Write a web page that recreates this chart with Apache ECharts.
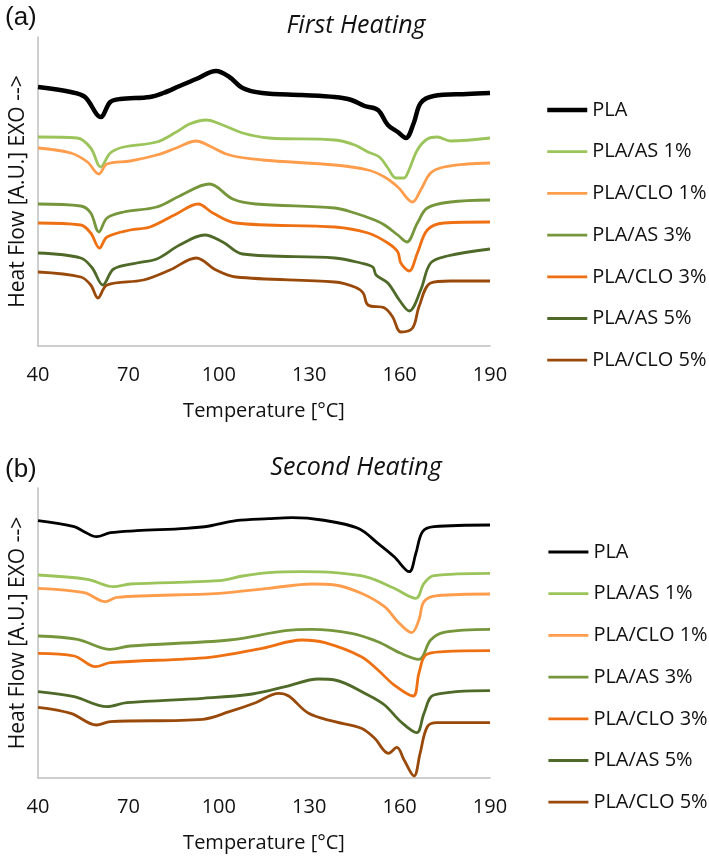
<!DOCTYPE html>
<html>
<head>
<meta charset="utf-8">
<script src="https://cdn.jsdelivr.net/npm/echarts@6/dist/echarts.min.js"></script>
<style>
html,body{margin:0;padding:0;background:#fff;}
#chart{width:709px;height:860px;}
</style>
</head>
<body>
<div id="chart"></div>
<script>
// ---------- names, colours, ticks ----------
var seriesNames = ['PLA','PLA/AS 1%','PLA/CLO 1%','PLA/AS 3%','PLA/CLO 3%','PLA/AS 5%','PLA/CLO 5%'];
var seriesColors = ['#000000','#9BC45A','#FF9D4D','#76963C','#EE7012','#4F6A28','#994A0A'];
var xTicks = [40, 70, 100, 130, 160, 190];

// ---------- (a) First heating : temperature [°C] / heat flow [A.U.] ----------
var fh_PLA_T  = [40,50.9,55.6,60.8,64,67.3,77.2,81.6,87,92.5,99.1,103.5,107.9,114.4,127.6,138.5,144,148.4,152.8,156.1,159.4,162.1,164.7,167,171.3,182.4,190];
var fh_PLA_Y  = [259,254,249,229,244,247,249,253,260,267,275,269,258,253,251,249,246,240,236,221,214,208,223,243,250,252,253];
var fh_AS1_T  = [40,53,57.5,60.8,64,68.4,79.4,85.9,90.3,95.8,101.3,107.9,116.6,138.5,145.1,149.5,153.3,156.1,158.8,161.4,163.1,165.9,169.2,172.5,176.9,190];
var fh_AS1_Y  = [209,208,198,179,193,199,204,214,222,226,221,213,208,206,201,194,189,178,168,168,176,196,207,209,205,208];
var fh_CLO1_T = [40,50.9,56.4,60.2,62.9,70.6,79.4,85.9,92.5,96.9,103.5,114.4,138.5,149.5,155,159.4,164.3,167,170.3,174.7,182.4,190];
var fh_CLO1_Y = [198,193,184,172,182,185,191,198,205,200,191,186,181,176,169,159,144,156,173,179,182,183];
var fh_AS3_T  = [40,54.2,57.5,60.2,62.9,68.4,79.4,87,96.9,104.6,112.2,138.5,145.1,151.7,155,159.4,162.4,165.9,169.2,176.9,190];
var fh_AS3_Y  = [142,140,133,114,128,134,139,150,162,147,142,138,133,126,121,111,104,123,138,144,146];
var fh_CLO3_T = [40,54.2,57.5,60.4,62.9,70.6,77.2,85.9,93.1,98,105.7,138.5,149.5,156.1,159.4,160.4,163.2,165.9,169.2,174.7,190];
var fh_CLO3_Y = [123,121,113,98,109,116,119,132,142,133,123,119,113,103,94,83,75,93,116,123,124];
var fh_AS5_T  = [40,54.2,58,61.5,65.1,72.8,79.4,87,95.3,101.3,107.9,138.5,147.1,151.1,152.2,156.1,159.9,163.2,167,170.3,175.8,190];
var fh_AS5_Y  = [93,88,78,61,77,83,87,101,111,104,92,88,83,79,71,63,46,35,56,83,90,97];
var fh_CLO5_T = [40,54.2,57.5,59.9,62.9,75,83.8,92.5,99.1,105.7,138.5,145.1,147.9,149.5,155,157.7,160.4,164.3,166.4,170.3,176.9,190];
var fh_CLO5_Y = [74,69,61,48,61,66,76,88,76,69,64,59,53,41,38,29,14,18,39,63,65,65];

// ---------- (b) Second heating ----------
var sh_PLA_T  = [40,52,55.3,59.4,64,72.8,89.2,96.9,105.7,116.6,124.3,134.2,146.2,152.8,158.2,163.2,165.4,167.6,171.4,190];
var sh_PLA_Y  = [257.3,251.3,246.3,241.3,245.3,247.3,249.7,252,257.3,259.3,260.3,258,249.7,234.7,221.3,206.3,224.7,246.3,251.3,253];
var sh_AS1_T  = [40,56.4,65.1,70.6,100.2,107.9,116.6,127.6,138.5,149.5,158.2,165.4,168.1,171.4,190];
var sh_AS1_Y  = [203,198.7,191.3,194,197.3,202,205.3,206.3,205.3,200.7,189.7,179.7,194.7,202.3,204.7];
var sh_CLO1_T = [40,55.3,62.4,66.2,100.2,116.6,130.9,138.5,147.3,155,159.4,164,166.4,168.1,172.5,190];
var sh_CLO1_Y = [189.7,185.3,176.3,180.7,184.7,189.7,194,193,184.7,171.3,156.3,145.3,158,176.3,182.3,184];
var sh_AS3_T  = [40,53.1,64,70.6,103.5,122.1,130.9,144,152.8,160.4,166.4,170.3,174.7,190];
var sh_AS3_Y  = [142,138.7,128.7,132,138,147.3,148.7,144.7,136.3,124.7,118.7,138,145.7,148.7];
var sh_CLO3_T = [40,52,59.1,64,96.9,114.4,127.6,135.2,147.3,152.8,158.2,164.5,166.4,168.7,174.7,190];
var sh_CLO3_Y = [124.7,122,111.3,115.3,120.7,129.7,138,135.3,121.3,108,93,82,104.7,123,126.3,127.3];
var sh_AS5_T  = [40,52,62.9,69.5,94.7,111.1,122.1,133.1,138.5,149.5,155,160.4,165.7,168.1,171.4,190];
var sh_AS5_Y  = [86.3,81.3,71.3,75.3,79.7,84,91.3,99,98,83,73,56.3,45.3,64.7,83,87.3];
var sh_CLO5_T = [40,50.9,59.4,64,94.7,103.5,112.2,119.9,123.2,129.8,138.5,147.3,151.7,156.3,159.1,161.5,164.8,166.8,169.2,172.5,190];
var sh_CLO5_Y = [70.7,64.7,53,56.3,58.7,66.3,75.3,84.7,82,64.7,56.3,49.7,39.7,24.7,30.7,18,2,24.7,51.3,55.3,55.3];

var firstT  = [fh_PLA_T, fh_AS1_T, fh_CLO1_T, fh_AS3_T, fh_CLO3_T, fh_AS5_T, fh_CLO5_T];
var firstY  = [fh_PLA_Y, fh_AS1_Y, fh_CLO1_Y, fh_AS3_Y, fh_CLO3_Y, fh_AS5_Y, fh_CLO5_Y];
var secondT = [sh_PLA_T, sh_AS1_T, sh_CLO1_T, sh_AS3_T, sh_CLO3_T, sh_AS5_T, sh_CLO5_T];
var secondY = [sh_PLA_Y, sh_AS1_Y, sh_CLO1_Y, sh_AS3_Y, sh_CLO3_Y, sh_AS5_Y, sh_CLO5_Y];

function pairs(t, y){ return t.map(function(v,i){ return [v, y[i]]; }); }

var FONT = 'Open Sans';
var series = [];
for (var i = 0; i < seriesNames.length; i++) {
  series.push({
    type:'line', name: seriesNames[i], xAxisIndex:0, yAxisIndex:0,
    data: pairs(firstT[i], firstY[i]), symbol:'none', smooth:0.35,
    lineStyle:{color:seriesColors[i], width: i===0 ? 4.5 : 2.8},
    itemStyle:{color:seriesColors[i]}, z: 2
  });
}
for (var j = 0; j < seriesNames.length; j++) {
  series.push({
    type:'line', name: seriesNames[j], xAxisIndex:1, yAxisIndex:1,
    data: pairs(secondT[j], secondY[j]), symbol:'none', smooth:0.35,
    lineStyle:{color:seriesColors[j], width: 2.8},
    itemStyle:{color:seriesColors[j]}, z: 2
  });
}

function xAxisFor(gi){
  return {
    type:'value', gridIndex:gi, min:40, max:190, interval:30,
    axisLine:{show:true, onZero:false, lineStyle:{color:'#BFBFBF', width:1.5}},
    axisTick:{show:false}, splitLine:{show:false},
    axisLabel:{fontFamily:FONT, fontSize:20, color:'#111', margin:19,
      formatter:function(v){ return xTicks.indexOf(v) >= 0 ? String(v) : ''; }},
    name:'Temperature [°C]', nameLocation:'middle', nameGap:55,
    nameTextStyle:{fontFamily:FONT, fontSize:20, color:'#111'}
  };
}
function yAxisFor(gi, max){
  return {
    type:'value', gridIndex:gi, min:0, max:max,
    axisLine:{show:true, lineStyle:{color:'#BFBFBF', width:1.5}},
    axisTick:{show:false}, splitLine:{show:false}, axisLabel:{show:false},
    name:'Heat Flow [A.U.] EXO -->', nameLocation:'middle', nameGap:9,
    nameTextStyle:{fontFamily:FONT, fontSize:21, color:'#111'}
  };
}
function legendFor(top, left, plaWidth){
  return {
    orient:'vertical', top:top, left:left, itemWidth:40, itemHeight:14, itemGap:21.7,
    textStyle:{fontFamily:FONT, fontSize:20, color:'#111', lineHeight:20},
    itemStyle:{opacity:0},
    data: seriesNames.map(function(n, k){
      return {name:n, itemStyle:{opacity:0}, lineStyle:{width: k===0 ? plaWidth : 2.8, color:seriesColors[k]}};
    })
  };
}

var chart = echarts.init(document.getElementById('chart'), null, {renderer:'canvas'});
chart.setOption({
  animation:false,
  backgroundColor:'#ffffff',
  title:[
    {text:'(a)', left:0, top:0, textStyle:{fontFamily:'Liberation Sans', fontWeight:'normal', fontSize:26, color:'#111'}},
    {text:'First Heating', left:351, top:8, textAlign:'center', textStyle:{fontFamily:FONT, fontStyle:'italic', fontWeight:'normal', fontSize:25, color:'#111'}},
    {text:'(b)', left:0, top:452, textStyle:{fontFamily:'Liberation Sans', fontWeight:'normal', fontSize:26, color:'#111'}},
    {text:'Second Heating', left:351, top:450, textAlign:'center', textStyle:{fontFamily:FONT, fontStyle:'italic', fontWeight:'normal', fontSize:25, color:'#111'}}
  ],
  grid:[
    {left:34, top:37, width:456, height:309},
    {left:34, top:488, width:456, height:290}
  ],
  xAxis:[xAxisFor(0), xAxisFor(1)],
  yAxis:[yAxisFor(0, 309), yAxisFor(1, 290)],
  legend:[legendFor(95, 540, 4.5), legendFor(537, 542, 2.8)],
  series: series
});
</script>
</body>
</html>
